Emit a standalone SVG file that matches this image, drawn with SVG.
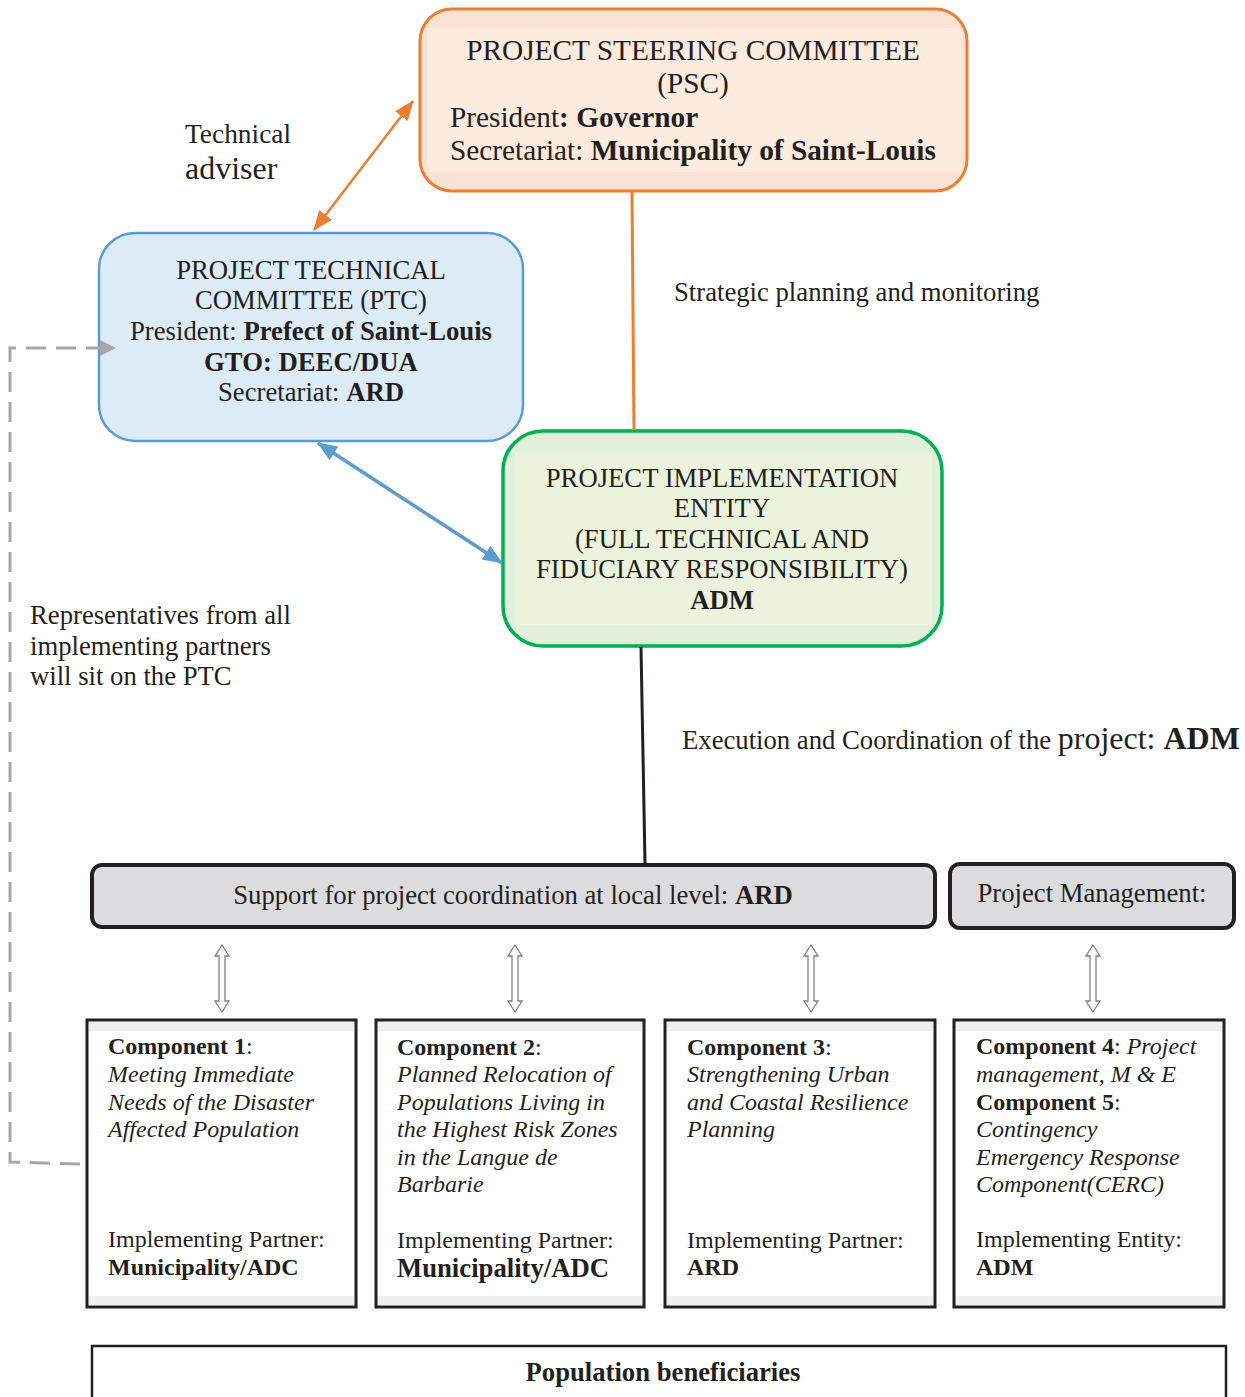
<svg xmlns="http://www.w3.org/2000/svg" width="1245" height="1397" viewBox="0 0 1245 1397">
<style>
text{font-family:"Liberation Serif","Times New Roman",serif;fill:#231F20;font-size:26.7px}
.c{text-anchor:middle}
.b{font-weight:bold}
.i{font-style:italic}
.s{font-size:24px}
.comp{fill:#fff;stroke:#231F20;stroke-width:3}
.band{fill:#EFEFEF}
.bar{fill:#DCDCDE;stroke:#231F20;stroke-width:4}
.dbl{fill:#fff;stroke:#808080;stroke-width:1.3}
</style>
<defs>
<marker id="ao" markerUnits="userSpaceOnUse" markerWidth="22" markerHeight="16" refX="19" refY="8" orient="auto-start-reverse"><path d="M0,0 L20,8 L0,16 z" fill="#ED7D31"/></marker>
<marker id="ab" markerUnits="userSpaceOnUse" markerWidth="22" markerHeight="16" refX="19" refY="8" orient="auto-start-reverse"><path d="M0,0 L20,8 L0,16 z" fill="#5B9BD5"/></marker>
</defs>

<g id="labels">
<text x="185" y="143" style="font-size:27.4px">Technical</text>
<text x="185" y="179" style="font-size:32px">adviser</text>
<text x="674" y="301">Strategic planning and monitoring</text>
<text x="30" y="624">Representatives from all</text>
<text x="30" y="655">implementing partners</text>
<text x="30" y="685">will sit on the PTC</text>
<text x="682" y="749">Execution and Coordination of the <tspan style="font-size:32px">project: </tspan><tspan class="b" style="font-size:32px">ADM</tspan></text>
</g>

<g id="psc">
<rect x="420" y="9" width="547" height="182" rx="32" fill="#FAE3D4" stroke="#ED7D31" stroke-width="3"/>
<rect x="427" y="28" width="534" height="144" fill="#FDEBDD"/>
<text class="c" x="693" y="60" style="font-size:29.3px">PROJECT STEERING COMMITTEE</text>
<text class="c" x="693" y="93" style="font-size:29.3px">(PSC)</text>
<text x="450" y="127" style="font-size:29.3px">President<tspan class="b">: Governor</tspan></text>
<text x="450" y="160" style="font-size:29.3px">Secretariat: <tspan class="b">Municipality of Saint-Louis</tspan></text>
</g>

<g id="ptc">
<rect x="99" y="233" width="424" height="208" rx="36" fill="#DDEBF7" stroke="#5B9BD5" stroke-width="2.5"/>
<text class="c" x="311" y="279">PROJECT TECHNICAL</text>
<text class="c" x="311" y="309">COMMITTEE (PTC)</text>
<text class="c" x="311" y="340">President: <tspan class="b">Prefect of Saint-Louis</tspan></text>
<text class="c b" x="311" y="371">GTO: DEEC/DUA</text>
<text class="c" x="311" y="401">Secretariat: <tspan class="b">ARD</tspan></text>
</g>

<g id="pie">
<rect x="503" y="431" width="439" height="215" rx="40" fill="#E2EFDA" stroke="#00B050" stroke-width="3.5"/>
<rect x="515" y="452" width="417" height="173" fill="#EBF3DC"/>
<text class="c" x="722" y="487">PROJECT IMPLEMENTATION</text>
<text class="c" x="722" y="517">ENTITY</text>
<text class="c" x="722" y="548">(FULL TECHNICAL AND</text>
<text class="c" x="722" y="578">FIDUCIARY RESPONSIBILITY)</text>
<text class="c b" x="722" y="609">ADM</text>
</g>

<g id="ard-bar">
<rect class="bar" x="92" y="865" width="843" height="62" rx="10"/>
<text class="c" x="513" y="904">Support for project coordination at local level: <tspan class="b">ARD</tspan></text>
</g>

<g id="pm-bar">
<rect class="bar" x="950" y="864" width="284" height="64" rx="10"/>
<text class="c" x="1092" y="902">Project Management:</text>
</g>

<g id="comp1">
<rect class="comp" x="87" y="1020" width="269" height="287"/>
<rect class="band" x="89" y="1022" width="265" height="9"/>
<rect class="band" x="89" y="1296" width="265" height="9"/>
<text class="s" x="108" y="1054"><tspan class="b">Component 1</tspan>:</text>
<text class="s i" x="108" y="1082">Meeting Immediate</text>
<text class="s i" x="108" y="1110">Needs of the Disaster</text>
<text class="s i" x="108" y="1137">Affected Population</text>
<text class="s" x="108" y="1247">Implementing Partner:</text>
<text class="s b" x="108" y="1275">Municipality/ADC</text>
</g>

<g id="comp2">
<rect class="comp" x="376" y="1020" width="268" height="287"/>
<rect class="band" x="378" y="1022" width="264" height="9"/>
<rect class="band" x="378" y="1296" width="264" height="9"/>
<text class="s" x="397" y="1055"><tspan class="b">Component 2</tspan>:</text>
<text class="s i" x="397" y="1082">Planned Relocation of</text>
<text class="s i" x="397" y="1110">Populations Living in</text>
<text class="s i" x="397" y="1137">the Highest Risk Zones</text>
<text class="s i" x="397" y="1165">in the Langue de</text>
<text class="s i" x="397" y="1192">Barbarie</text>
<text class="s" x="397" y="1248">Implementing Partner:</text>
<text class="b" x="397" y="1277">Municipality/ADC</text>
</g>

<g id="comp3">
<rect class="comp" x="665" y="1020" width="270" height="287"/>
<rect class="band" x="667" y="1022" width="266" height="9"/>
<rect class="band" x="667" y="1296" width="266" height="9"/>
<text class="s" x="687" y="1055"><tspan class="b">Component 3</tspan>:</text>
<text class="s i" x="687" y="1082">Strengthening Urban</text>
<text class="s i" x="687" y="1110">and Coastal Resilience</text>
<text class="s i" x="687" y="1137">Planning</text>
<text class="s" x="687" y="1248">Implementing Partner:</text>
<text class="s b" x="687" y="1275">ARD</text>
</g>

<g id="comp45">
<rect class="comp" x="954" y="1020" width="270" height="287"/>
<rect class="band" x="956" y="1022" width="266" height="9"/>
<rect class="band" x="956" y="1296" width="266" height="9"/>
<text class="s" x="976" y="1054"><tspan class="b">Component 4</tspan>: <tspan class="i">Project</tspan></text>
<text class="s i" x="976" y="1082">management, M &amp; E</text>
<text class="s" x="976" y="1110"><tspan class="b">Component 5</tspan>:</text>
<text class="s i" x="976" y="1137">Contingency</text>
<text class="s i" x="976" y="1165">Emergency Response</text>
<text class="s i" x="976" y="1192">Component(CERC)</text>
<text class="s" x="976" y="1247">Implementing Entity:</text>
<text class="s b" x="976" y="1275">ADM</text>
</g>

<g id="beneficiaries">
<path d="M92,1397 L92,1346 L1226,1346 L1226,1397" fill="#fff" stroke="#231F20" stroke-width="2.5"/>
<text class="c b" x="663" y="1381">Population beneficiaries</text>
</g>

<g id="connectors">
<line x1="632" y1="192" x2="634" y2="430" stroke="#ED7D31" stroke-width="3"/>
<line x1="413" y1="101" x2="314" y2="230" stroke="#ED7D31" stroke-width="2.5" marker-start="url(#ao)" marker-end="url(#ao)"/>
<line x1="318" y1="443" x2="502" y2="563" stroke="#5B9BD5" stroke-width="3.5" marker-start="url(#ab)" marker-end="url(#ab)"/>
<line x1="641" y1="647" x2="645" y2="863" stroke="#231F20" stroke-width="3"/>
<path d="M80,1164 L10,1162 L10,348 L100,348" fill="none" stroke="#A6A6A6" stroke-width="3" stroke-dasharray="20,10"/>
<path d="M100,340 L116,348 L100,356 z" fill="#A6A6A6"/>
<path class="dbl" d="M222,945 L229,956 L225,956 L225,1001 L229,1001 L222,1012 L215,1001 L219,1001 L219,956 L215,956 Z"/>
<path class="dbl" d="M515,945 L522,956 L518,956 L518,1001 L522,1001 L515,1012 L508,1001 L512,1001 L512,956 L508,956 Z"/>
<path class="dbl" d="M811,945 L818,956 L814,956 L814,1001 L818,1001 L811,1012 L804,1001 L808,1001 L808,956 L804,956 Z"/>
<path class="dbl" d="M1093,945 L1100,956 L1096,956 L1096,1001 L1100,1001 L1093,1012 L1086,1001 L1090,1001 L1090,956 L1086,956 Z"/>
</g>
</svg>
